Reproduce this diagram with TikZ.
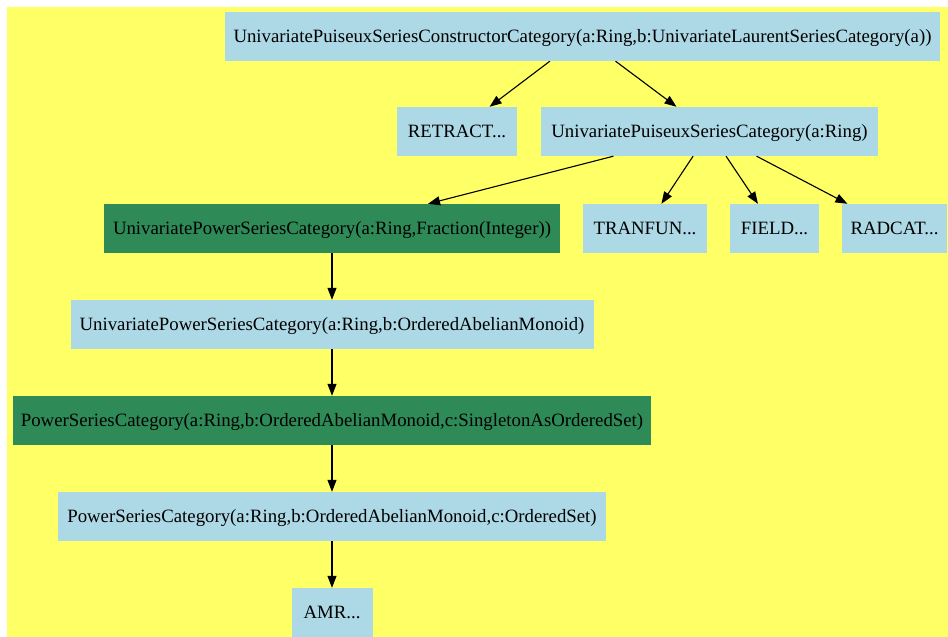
\documentclass[tikz,border=0pt]{standalone}
\usepackage{fontspec}
\setmainfont{Liberation Serif}
\usepackage{tikz}
\usetikzlibrary{arrows.meta,positioning}
\definecolor{bgcol}{RGB}{255,255,102}
\definecolor{catcol}{RGB}{173,216,230}
\definecolor{domcol}{RGB}{46,139,87}
\tikzset{
  % category box
  catbox/.style={rectangle, fill=catcol, minimum width=#1, minimum height=49pt,
                 inner sep=0pt, text height=13pt, text depth=1pt,
                 font=\fontsize{18.8}{22}\selectfont},
  catbox/.default={80pt},
  % domain box (green)
  dombox/.style={catbox=#1, fill=domcol},
  dombox/.default={80pt},
  % inheritance arrow
  isa/.style={-{Triangle[length=12pt,width=9pt]}, line width=1.1pt, black},
}
\begin{document}
\begin{tikzpicture}[x=1pt, y=-1pt]

  % ── canvas ──
  \useasboundingbox (0,0) rectangle (948,637);
  \fill[bgcol] (7,7) rectangle (948,637);

  % ── row 1 ──
  \node[catbox=715pt] (upscc) at (582.5,36.5)
    {UnivariatePuiseuxSeriesConstructorCategory(a:Ring,b:UnivariateLaurentSeriesCategory(a))};

  % ── row 2 ──
  \node[catbox=120pt] (retract) at (457,131.5) {RETRACT...};
  \node[catbox=337pt] (upsc) at (709.5,131.5) {UnivariatePuiseuxSeriesCategory(a:Ring)};

  % ── row 3 ──
  \node[dombox=456pt] (upowfrac) at (332,228.5) {UnivariatePowerSeriesCategory(a:Ring,Fraction(Integer))};
  \node[catbox=124pt] (tranfun) at (645,228.5) {TRANFUN...};
  \node[catbox=89pt] (field) at (774.5,228.5) {FIELD...};
  \node[catbox=105pt] (radcat) at (894.5,228.5) {RADCAT...};

  % ── chain down ──
  \node[catbox=523pt] (upowoam) at (332,324.5) {UnivariatePowerSeriesCategory(a:Ring,b:OrderedAbelianMonoid)};
  \node[dombox=638pt] (psingle) at (332,420.5) {PowerSeriesCategory(a:Ring,b:OrderedAbelianMonoid,c:SingletonAsOrderedSet)};
  \node[catbox=548pt] (poset) at (332,516.5) {PowerSeriesCategory(a:Ring,b:OrderedAbelianMonoid,c:OrderedSet)};
  \node[catbox=81pt] (amr) at (332,612.5) {AMR...};

  % ── edges ──
  \draw[isa] (upscc) -- (retract);
  \draw[isa] (upscc) -- (upsc);
  \draw[isa] (upsc) -- (upowfrac);
  \draw[isa] (upsc) -- (tranfun);
  \draw[isa] (upsc) -- (field);
  \draw[isa] (upsc) -- (radcat);
  \draw[isa] (upowfrac) -- (upowoam);
  \draw[isa] (upowoam) -- (psingle);
  \draw[isa] (psingle) -- (poset);
  \draw[isa] (poset) -- (amr);

\end{tikzpicture}
\end{document}
